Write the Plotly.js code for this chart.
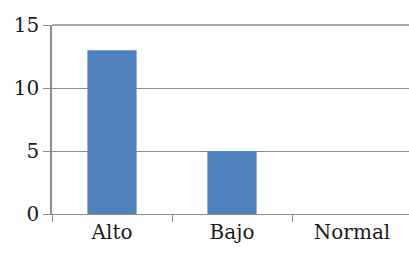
<!DOCTYPE html>
<html>
<head>
<meta charset="utf-8">
<script src="https://cdn.plot.ly/plotly-3.0.1.min.js"></script>
<style>html,body{margin:0;padding:0;background:#fff;}#chart{width:409px;height:253px;}</style>
</head>
<body>
<div id="chart"></div>
<script>
const categories = ["Alto", "Bajo", "Normal"];
const values = [13, 5, 0];
const yTicks = [0, 5, 10, 15];

const FONT = "DejaVu Serif, serif";

const trace = {
  type: "bar",
  x: categories,
  y: values,
  marker: {color: "#4F81BD"},
  hoverinfo: "none"
};

const layout = {
  width: 409,
  height: 253,
  margin: {l: 52, r: 0, t: 25, b: 39, pad: 0},
  paper_bgcolor: "#ffffff",
  plot_bgcolor: "#ffffff",
  showlegend: false,
  bargap: 0.59,
  font: {family: FONT, size: 20, color: "#1a1a1a"},
  xaxis: {
    type: "category",
    range: [-0.5, 2.475],
    showgrid: false,
    showline: true,
    linecolor: "#8c8c8c",
    linewidth: 1.3,
    ticks: "outside",
    tickson: "boundaries",
    ticklen: 7,
    tickcolor: "#8c8c8c",
    tickwidth: 1.3,
    tickfont: {family: FONT, size: 20, color: "#1a1a1a"},
    zeroline: false,
    fixedrange: true
  },
  yaxis: {
    range: [0, 15],
    tickvals: yTicks,
    ticktext: yTicks.map(String),
    showgrid: true,
    gridcolor: "#8c8c8c",
    gridwidth: 1.3,
    showline: true,
    linecolor: "#8c8c8c",
    linewidth: 1.5,
    ticks: "outside",
    ticklen: 7,
    tickcolor: "#8c8c8c",
    tickwidth: 1.3,
    tickfont: {family: FONT, size: 20, color: "#1a1a1a"},
    zeroline: false,
    fixedrange: true
  },
  shapes: [{
    type: "line", xref: "paper", yref: "paper",
    x0: 0, x1: 1, y0: 1, y1: 1,
    line: {color: "#8c8c8c", width: 1.3}
  }]
};

Plotly.newPlot("chart", [trace], layout, {displayModeBar: false});
</script>
</body>
</html>
